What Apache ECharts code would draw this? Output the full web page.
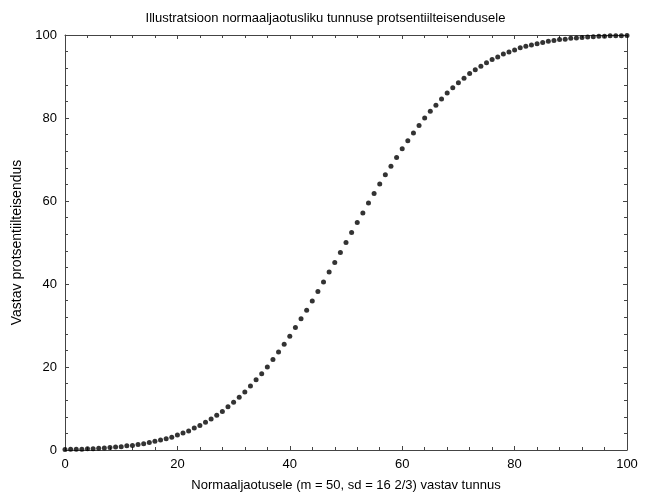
<!DOCTYPE html>
<html>
<head>
<meta charset="utf-8">
<script src="https://cdn.jsdelivr.net/npm/echarts@6/dist/echarts.min.js"></script>
<style>
  html, body { margin: 0; padding: 0; background: #fff; }
  #chart { width: 651px; height: 497px; }
</style>
</head>
<body>
<div id="chart"></div>
<script>
// tunnus (x) and protsentiil (y)
const xValues = [0,1,2,3,4,5,6,7,8,9,10,11,12,13,14,15,16,17,18,19,20,21,22,23,24,25,26,27,28,29,30,
  31,32,33,34,35,36,37,38,39,40,41,42,43,44,45,46,47,48,49,50,51,52,53,54,55,56,57,58,59,60,
  61,62,63,64,65,66,67,68,69,70,71,72,73,74,75,76,77,78,79,80,81,82,83,84,85,86,87,88,89,90,
  91,92,93,94,95,96,97,98,99,100];
const yValues = [0.1,0.2,0.2,0.2,0.3,0.3,0.4,0.5,0.6,0.7,0.8,1.0,1.1,1.3,1.5,1.8,2.1,2.4,2.7,3.1,3.6,
  4.1,4.6,5.3,5.9,6.7,7.5,8.4,9.3,10.4,11.5,12.7,14.0,15.4,16.9,18.4,20.0,21.8,23.6,25.5,27.4,
  29.5,31.6,33.7,35.9,38.2,40.5,42.9,45.2,47.6,50.0,52.4,54.8,57.1,59.5,61.8,64.1,66.3,68.4,70.5,72.6,
  74.5,76.4,78.2,80.0,81.6,83.1,84.6,86.0,87.3,88.5,89.6,90.7,91.6,92.5,93.3,94.1,94.7,95.4,95.9,96.4,
  96.9,97.3,97.6,97.9,98.2,98.5,98.7,98.9,99.0,99.2,99.3,99.4,99.5,99.6,99.7,99.7,99.8,99.8,99.8,99.9];

const titleText = 'Illustratsioon normaaljaotusliku tunnuse protsentiilteisendusele';
const xName = 'Normaaljaotusele (m = 50, sd = 16 2/3) vastav tunnus';
const yName = 'Vastav protsentiilteisendus';

const font = 'Liberation Sans, Arial, sans-serif';
const axisColor = '#444';

function frameAxis(pos, showLabels) {
  return {
    type: 'value', min: 0, max: 100, interval: 20, position: pos,
    axisLine: { show: true, onZero: false, lineStyle: { color: axisColor, width: 1 } },
    axisTick: { show: true, inside: true, length: 4, lineStyle: { color: axisColor } },
    minorTick: { show: true, splitNumber: 5, length: 3, lineStyle: { color: axisColor } },
    axisLabel: { show: showLabels, inside: false, color: '#000', fontFamily: font, fontSize: 13, margin: 8 },
    splitLine: { show: false }
  };
}

const xBottom = Object.assign(frameAxis('bottom', true), {
  name: xName, nameLocation: 'middle', nameGap: 29,
  nameTextStyle: { color: '#000', fontFamily: font, fontSize: 13 }
});
const yLeft = Object.assign(frameAxis('left', true), {
  name: yName, nameLocation: 'middle', nameGap: 36,
  nameTextStyle: { color: '#000', fontFamily: font, fontSize: 14 }
});

const chart = echarts.init(document.getElementById('chart'));
chart.setOption({
  animation: false,
  title: {
    text: titleText, left: 'center', top: 7,
    textStyle: { color: '#000', fontFamily: font, fontSize: 13, fontWeight: 'normal' }
  },
  grid: { left: 65, right: 24, top: 35, bottom: 44 },
  xAxis: [xBottom, frameAxis('top', false)],
  yAxis: [yLeft, frameAxis('right', false)],
  series: [{
    type: 'scatter',
    xAxisIndex: 0, yAxisIndex: 0,
    symbolSize: 5,
    itemStyle: { color: '#000' },
    clip: false,
    data: xValues.map((x, i) => [x, yValues[i]])
  }]
});
</script>
</body>
</html>
